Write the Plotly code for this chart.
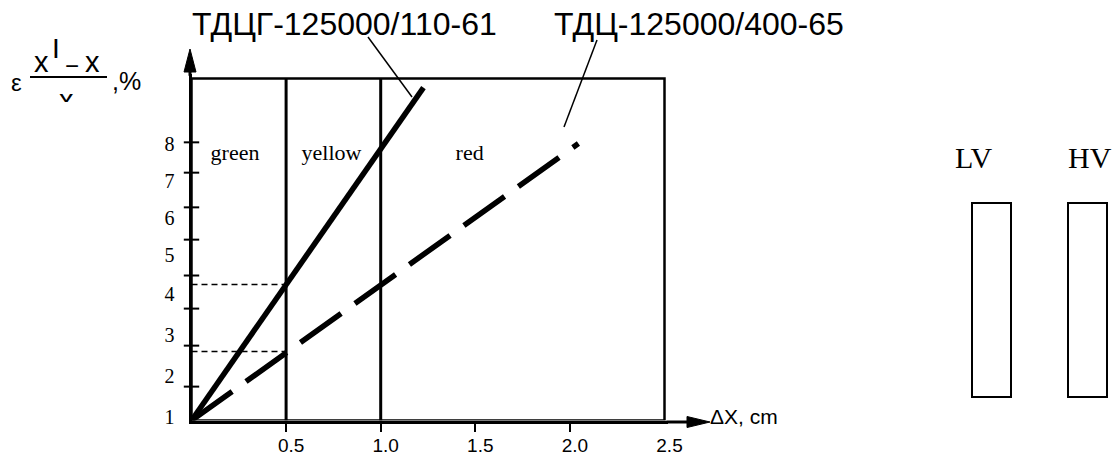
import plotly.graph_objects as go

# ---------------- data ----------------
x_tick_vals = [0.5, 1.0, 1.5, 2.0, 2.5]
x_tick_text = ["0.5", "1.0", "1.5", "2.0", "2.5"]
x_tick_marks = [0.5, 1.0, 1.5, 2.0]

y_label_pos = [1.10, 2.14, 3.16, 4.22, 5.21, 6.13, 7.07, 8.03]
y_label_text = ["1", "2", "3", "4", "5", "6", "7", "8"]
y_tick_marks = [1.86, 2.90, 3.84, 4.68, 5.59, 6.41, 7.29, 8.06]

zone_names = ["green", "yellow", "red"]
zone_label_x = [0.23, 0.74, 1.47]
zone_label_y = [7.76, 7.76, 7.76]
zone_bounds = [0.5, 1.0]
box_right = 2.5
box_top = 9.68

s1_name = "ТДЦГ-125000/110-61"
s1_x = [0.0, 1.226]
s1_y = [1.0, 9.45]

s2_name = "ТДЦ-125000/400-65"
s2_x = [0.0, 2.045]
s2_y = [1.0, 8.03]

guide_y = [4.45, 2.75]
guide_x = [0.0, 0.5]

coil_names = ["LV", "HV"]

x_title = "ΔX, cm"

# ---------------- layout helpers (pixel -> paper) ----------------
W, H = 1119, 462
def PX(v):
    return v / W
def PY(v):
    return 1 - v / H

SANS = "Liberation Sans, Arial, sans-serif"
SERIF = "Liberation Serif, Times New Roman, serif"

XR = [0, 2.52]
YR = [1, 9.8]
dom_l, dom_b = 191.5, 420.5
dom_r = dom_l + (XR[1] - XR[0]) * 189.2
dom_t = dom_b - (YR[1] - YR[0]) * 39.4

fig = go.Figure()

fig.add_trace(go.Scatter(x=s1_x, y=s1_y, mode="lines", name=s1_name,
                         line=dict(color="black", width=5.5)))
fig.add_trace(go.Scatter(x=s2_x, y=s2_y, mode="lines", name=s2_name,
                         line=dict(color="black", width=5.5, dash="50px,17px")))
for g in guide_y:
    fig.add_trace(go.Scatter(x=guide_x, y=[g, g], mode="lines",
                             line=dict(color="black", width=1.5, dash="6px,4px")))
fig.add_trace(go.Scatter(x=[0] * len(y_tick_marks), y=y_tick_marks, mode="markers",
                         cliponaxis=False,
                         marker=dict(symbol="line-ew", size=11,
                                     line=dict(color="black", width=2))))
fig.add_trace(go.Scatter(x=zone_label_x, y=zone_label_y, mode="text", text=zone_names,
                         textposition="middle center",
                         textfont=dict(family=SERIF, size=22, color="black")))
# carrier for the tick-mark axis
fig.add_trace(go.Scatter(x=[None], y=[None], xaxis="x2", mode="lines"))

shapes = []
shapes.append(dict(type="rect", xref="x", yref="y", x0=0, x1=box_right, y0=1, y1=box_top,
                   line=dict(color="black", width=2.5)))
for b in zone_bounds:
    shapes.append(dict(type="line", xref="x", yref="y", x0=b, x1=b, y0=1, y1=box_top,
                       line=dict(color="black", width=3)))
# axis extensions and arrow heads
shapes.append(dict(type="line", xref="paper", yref="paper", x0=PX(dom_r - 2), x1=PX(692),
                   y0=PY(422), y1=PY(422), line=dict(color="black", width=3)))
shapes.append(dict(type="line", xref="paper", yref="paper", x0=PX(190), x1=PX(190),
                   y0=PY(dom_t + 2), y1=PY(70), line=dict(color="black", width=3)))
shapes.append(dict(type="path", xref="paper", yref="paper",
                   path=f"M{PX(687)},{PY(416.5)} L{PX(710)},{PY(422)} L{PX(687)},{PY(427.5)} Z",
                   fillcolor="black", line=dict(color="black", width=1)))
shapes.append(dict(type="path", xref="paper", yref="paper",
                   path=f"M{PX(184)},{PY(72)} L{PX(190)},{PY(49)} L{PX(196)},{PY(72)} Z",
                   fillcolor="black", line=dict(color="black", width=1)))
# callout lines
shapes.append(dict(type="line", xref="paper", yref="paper", x0=PX(368), y0=PY(37),
                   x1=PX(412), y1=PY(97), line=dict(color="black", width=1.5)))
shapes.append(dict(type="line", xref="paper", yref="paper", x0=PX(597), y0=PY(40),
                   x1=PX(564), y1=PY(127), line=dict(color="black", width=1.5)))
# fraction bar
shapes.append(dict(type="line", xref="paper", yref="paper", x0=PX(30), y0=PY(77),
                   x1=PX(107), y1=PY(77), line=dict(color="black", width=2)))
# winding rectangles
for cx0 in (972, 1068):
    shapes.append(dict(type="rect", xref="paper", yref="paper", x0=PX(cx0), x1=PX(cx0 + 39),
                       y0=PY(397), y1=PY(203), line=dict(color="black", width=2)))

ann = []
def txt(t, x, y, size, family=SANS, xanchor="center", **kw):
    d = dict(text=t, x=PX(x), y=PY(y), xref="paper", yref="paper", showarrow=False,
             xanchor=xanchor, yanchor="middle",
             font=dict(family=family, size=size, color="black"))
    d.update(kw)
    ann.append(d)

txt(s1_name, 190, 24, 32, xanchor="left")
txt(s2_name, 552, 24, 32, xanchor="left")
txt(x_title, 708, 416, 21, xanchor="left")
# y-axis title  ε (x' - x)/x , %
txt("ε", 16, 82, 24)
txt("x", 41, 62, 29)
txt("I", 56, 48, 28)
txt("−", 72, 65, 24)
txt("x", 92, 62, 29)
txt(",%", 110, 81, 25, xanchor="left")
ann.append(dict(text="x", x=PX(66), y=PY(82), xref="paper", yref="paper", showarrow=False,
                xanchor="center", yanchor="top", height=18, valign="top",
                font=dict(family=SANS, size=29, color="black")))
for name, cx in zip(coil_names, (974, 1090)):
    txt(name, cx, 157, 30, family=SERIF)

fig.update_layout(
    template="none",
    width=W, height=H,
    margin=dict(l=0, r=0, t=0, b=0, pad=0, autoexpand=False),
    paper_bgcolor="white", plot_bgcolor="white",
    showlegend=False, hovermode=False,
    shapes=shapes, annotations=ann,
    xaxis=dict(domain=[PX(dom_l), PX(dom_r)], range=XR, showgrid=False, zeroline=False,
               automargin=False,
               showline=True, linecolor="black", linewidth=3,
               tickmode="array", tickvals=x_tick_vals, ticktext=x_tick_text,
               ticks="", ticklabelstandoff=6, ticklabelshift=5,
               tickfont=dict(family=SANS, size=19, color="black")),
    xaxis2=dict(overlaying="x", matches="x", anchor="y", side="bottom", automargin=False,
                showgrid=False, zeroline=False, showline=False,
                tickmode="array", tickvals=x_tick_marks, ticks="outside",
                ticklen=10, tickwidth=2, tickcolor="black", showticklabels=False),
    yaxis=dict(domain=[1 - dom_b / H, 1 - dom_t / H], range=YR, showgrid=False,
               automargin=False,
               zeroline=False, showline=True, linecolor="black", linewidth=3,
               tickmode="array", tickvals=y_label_pos, ticktext=y_label_text,
               ticks="", ticklabelstandoff=10,
               tickfont=dict(family=SERIF, size=20, color="black")),
)

fig.write_html("out.html", config={"displayModeBar": False},
               post_script="document.body.style.margin='0px';"
                           "document.body.style.overflow='hidden';")
